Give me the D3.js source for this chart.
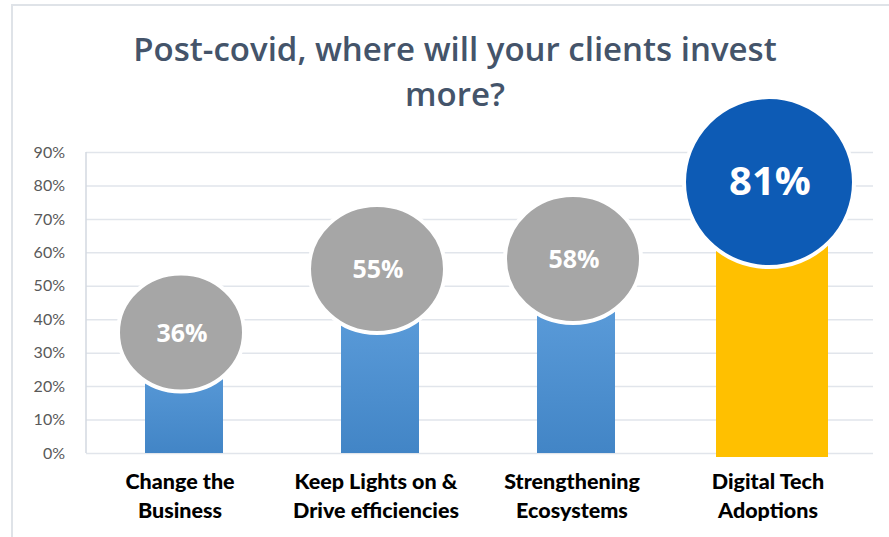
<!DOCTYPE html>
<html>
<head>
<meta charset="utf-8">
<script src="https://cdn.jsdelivr.net/npm/d3@7"></script>
<style>
  body { margin: 0; background: #fff; }
  svg { display: block; }
</style>
</head>
<body>
<svg width="889" height="537"></svg>
<script>
const categories = [
  ["Change the", "Business"],
  ["Keep Lights on &", "Drive efficiencies"],
  ["Strengthening", "Ecosystems"],
  ["Digital Tech", "Adoptions"]
];
const values = [36, 55, 58, 81];
const tickValues = [0, 10, 20, 30, 40, 50, 60, 70, 80, 90];
const highlight = 3; // last bar is the one called out

const gray = "#a6a6a6",
  navy = "#0d5bb5",
  yellow = "#ffc000",
  gridColor = "#e1e5eb";

const svg = d3.select("svg");

// outer frame
svg.append("path")
  .attr("d", "M12,537 V5 H889")
  .attr("fill", "none")
  .attr("stroke", "#dfe3e8")
  .attr("stroke-width", 2);

// title
const title = svg.append("text")
  .attr("text-anchor", "middle")
  .style("font-family", "'Open Sans', sans-serif")
  .style("font-weight", 600)
  .style("font-size", "33px")
  .attr("fill", "#44546a");
title.append("tspan").attr("x", 455).attr("y", 61).text("Post-covid,  where will your clients invest");
title.append("tspan").attr("x", 455).attr("y", 106).text("more?");

// scales
const xScale = d3.scaleBand().domain(d3.range(categories.length)).range([86, 870]);
const yScale = d3.scaleLinear().domain([0, 90]).range([453, 152]);

// gradient for the blue bars
const grad = svg.append("defs").append("linearGradient")
  .attr("id", "barBlue")
  .attr("x1", 0).attr("y1", 0).attr("x2", 0).attr("y2", 1);
grad.append("stop").attr("offset", "0%").attr("stop-color", "#62a2df");
grad.append("stop").attr("offset", "100%").attr("stop-color", "#4285c6");

// y axis with gridlines
const yAxis = d3.axisLeft(yScale)
  .tickValues(tickValues)
  .tickFormat((d) => d + "%")
  .tickSize(-787)
  .tickPadding(21);

const yAxisG = svg.append("g")
  .attr("id", "yAxisG")
  .attr("transform", "translate(86,0)")
  .call(yAxis);
yAxisG.select("path.domain").remove();
yAxisG.selectAll("line").attr("stroke", gridColor).attr("stroke-width", 1.5);
yAxisG.selectAll("text")
  .attr("fill", "#595959")
  .style("font-family", "Lato, sans-serif")
  .style("font-size", "16px");

// left axis line
svg.append("line")
  .attr("x1", 86).attr("x2", 86)
  .attr("y1", yScale(90)).attr("y2", yScale(0))
  .attr("stroke", "#d3d8e0")
  .attr("stroke-width", 1.5);

// bars
const barW = (i) => (i === highlight ? 112 : 78);
svg.append("g")
  .selectAll("rect")
  .data(values)
  .join("rect")
  .attr("x", (d, i) => xScale(i) + xScale.bandwidth() / 2 - barW(i) / 2)
  .attr("y", (d) => yScale(d))
  .attr("width", (d, i) => barW(i))
  .attr("height", (d, i) => yScale(0) - yScale(d) + (i === highlight ? 4 : 0))
  .attr("fill", (d, i) => (i === highlight ? yellow : "url(#barBlue)"));

// bubbles on top of each bar
const rx = (i) => (i === highlight ? 85 : i === 0 ? 63 : 68);
const ry = (i) => (i === highlight ? 85 : i === 0 ? 59 : 64);
svg.append("g")
  .selectAll("ellipse")
  .data(values)
  .join("ellipse")
  .attr("cx", (d, i) => xScale(i) + xScale.bandwidth() / 2 - 3)
  .attr("cy", (d) => yScale(d))
  .attr("rx", (d, i) => rx(i))
  .attr("ry", (d, i) => ry(i))
  .attr("fill", (d, i) => (i === highlight ? navy : gray))
  .attr("stroke", "#fff")
  .attr("stroke-width", 4);

svg.append("g")
  .selectAll("text")
  .data(values)
  .join("text")
  .attr("x", (d, i) => xScale(i) + xScale.bandwidth() / 2 - 2)
  .attr("y", (d, i) => yScale(d) + (i === highlight ? 13 : 9))
  .attr("text-anchor", "middle")
  .attr("fill", "#fff")
  .style("font-family", "'Open Sans', sans-serif")
  .style("font-weight", 700)
  .style("font-size", (d, i) => (i === highlight ? "40px" : "25px"))
  .text((d) => d + "%");

// category labels
const labels = svg.append("g")
  .selectAll("text")
  .data(categories)
  .join("text")
  .attr("text-anchor", "middle")
  .attr("fill", "#000")
  .style("font-family", "Lato, sans-serif")
  .style("font-weight", 900)
  .style("font-size", "21.5px");
labels.each(function (lines, i) {
  const cx = xScale(i) + xScale.bandwidth() / 2 - 4;
  d3.select(this).selectAll("tspan")
    .data(lines)
    .join("tspan")
    .attr("x", cx)
    .attr("y", (d, j) => 489 + j * 29)
    .text((d) => d);
});
</script>
</body>
</html>
